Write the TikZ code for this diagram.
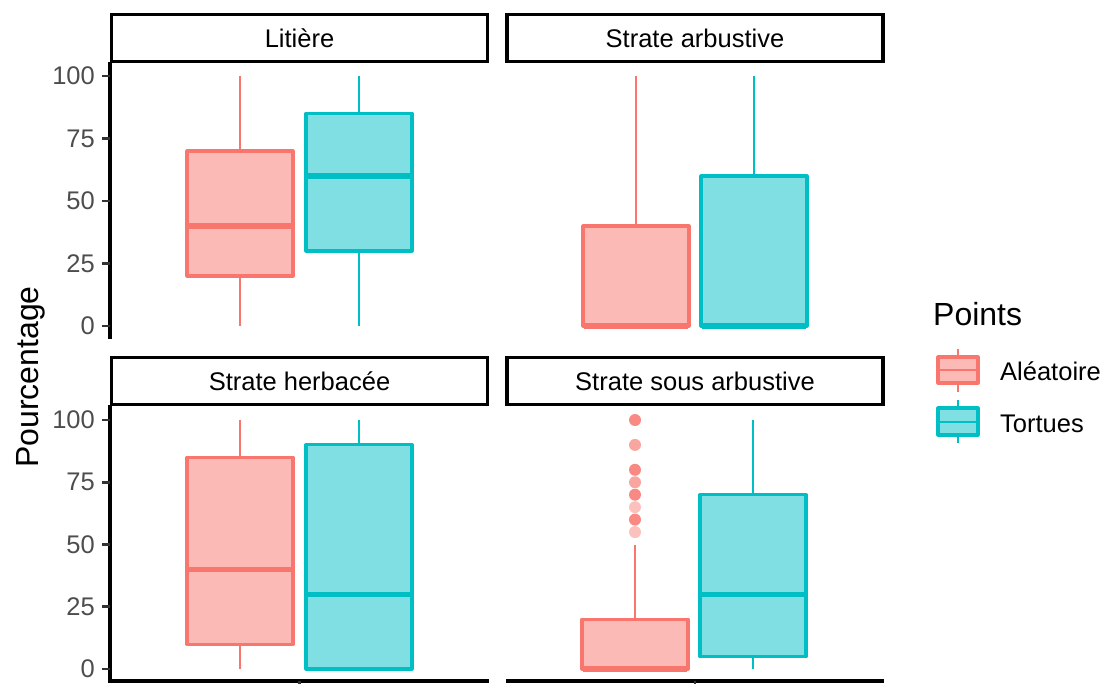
\documentclass[tikz,border=0pt]{standalone}
\usepackage{fontspec}
\setmainfont{Liberation Sans}

\definecolor{redline}{HTML}{F8766D}
\definecolor{redfill}{HTML}{FBBAB6}
\definecolor{tealline}{HTML}{00BFC4}
\definecolor{tealfill}{HTML}{80DFE2}
\definecolor{ticktext}{HTML}{4D4D4D}
\definecolor{tickline}{HTML}{333333}

\tikzset{
  strip/.style={draw=black, line width=3.2pt, fill=white, minimum width=376pt,
    minimum height=47pt, inner sep=0pt, font=\fontsize{25.5}{30}\selectfont},
  ticklabel/.style={anchor=east, inner sep=0pt, text=ticktext,
    font=\fontsize{25.5}{30}\selectfont},
  axisline/.style={line width=3.2pt, black},
  tickmark/.style={line width=2.6pt, tickline},
  whisker/.style={line width=2.9pt},
  boxbody/.style={line width=3.1pt, line join=round},
  medianline/.style={line width=5.6pt},
  outlier/.style={fill=redline, fill opacity=#1},
  legtitle/.style={anchor=base west, inner sep=0pt, font=\fontsize{32}{38}\selectfont},
  leglabel/.style={anchor=base west, inner sep=0pt, font=\fontsize{25.5}{30}\selectfont},
}

% one box: centre x, lower whisker, Q1, median, Q3, upper whisker, colour prefix
\newcommand\boxwhisker[7]{%
  \draw[whisker, #7line] (#1,#2) -- (#1,#3) (#1,#5) -- (#1,#6);
  \draw[boxbody, draw=#7line, fill=#7fill] ({#1-53},#3) rectangle ({#1+53},#5);
  \draw[medianline, #7line] ({#1-52},#4) -- ({#1+52},#4);
}

% y ticks of one panel row: zero position and pixels per unit
\newcommand\yticks[2]{%
  \foreach \v in {0,25,50,75,100}{
    \draw[tickmark] (102,{#1-#2*\v}) -- (110,{#1-#2*\v});
    \node[ticklabel] at (95,{#1-#2*\v}) {\v};
  }
}

\begin{document}
\begin{tikzpicture}[x=1pt, y=-1pt]
\useasboundingbox (0,0) rectangle (1105,684);

% ---- axes ----
\draw[axisline] (110,62) -- (110,339);
\draw[axisline] (110,405) -- (110,681) -- (489,681);
\draw[axisline] (506,681) -- (884,681);
\draw[tickmark] (299.5,681) -- (299.5,692);
\draw[tickmark] (695,681) -- (695,692);
\yticks{326}{2.5}
\yticks{669}{2.49}

% ---- strips ----
\node[strip] (s1) at (299.5,38) {Litière};
\node[strip] (s2) at (695,38) {Strate arbustive};
\node[strip] (s3) at (299.5,381) {Strate herbacée};
\node[strip] (s4) at (695,381) {Strate sous arbustive};

% ---- top row (values measured upwards from the zero line) ----
\begin{scope}[shift={(0pt,-326pt)}, y=2.5pt]
  \boxwhisker{240}{0}{20}{40}{70}{100}{red}
  \boxwhisker{359}{0}{30}{60}{85}{100}{teal}
  \boxwhisker{636}{0}{0}{0}{40}{100}{red}
  \boxwhisker{754}{0}{0}{0}{60}{100}{teal}
\end{scope}

% ---- bottom row ----
\begin{scope}[shift={(0pt,-669pt)}, y=2.49pt]
  \boxwhisker{240}{0}{10}{40}{85}{100}{red}
  \boxwhisker{359}{0}{0}{30}{90}{100}{teal}
  \boxwhisker{635}{0}{0}{0}{20}{50}{red}
  \boxwhisker{753}{0}{5}{30}{70}{100}{teal}
  \foreach \v/\o in {100/0.85, 90/0.65, 80/0.85, 75/0.65, 70/0.85, 65/0.45, 60/0.85, 55/0.45}
    \fill[outlier=\o] (635,\v) circle[radius=6pt];
\end{scope}

% ---- y label ----
\node[rotate=90, anchor=base, inner sep=0pt, font=\fontsize{32}{38}\selectfont]
  (ylab) at (38,377) {Pourcentage};

% ---- legend ----
\node[legtitle] (lt) at (933,326) {Points};
\draw[whisker, redline] (958,349) -- (958,392);
\draw[boxbody, draw=redline, fill=redfill] (938,357) rectangle (978,383);
\draw[whisker, redline] (938,370) -- (978,370);
\node[leglabel] (l1) at (1000,380) {Aléatoire};
\draw[whisker, tealline] (958,400) -- (958,443);
\draw[boxbody, draw=tealline, fill=tealfill] (938,408) rectangle (978,435);
\draw[whisker, tealline] (938,422) -- (978,422);
\node[leglabel] (l2) at (1000,432) {Tortues};
\end{tikzpicture}
\end{document}
